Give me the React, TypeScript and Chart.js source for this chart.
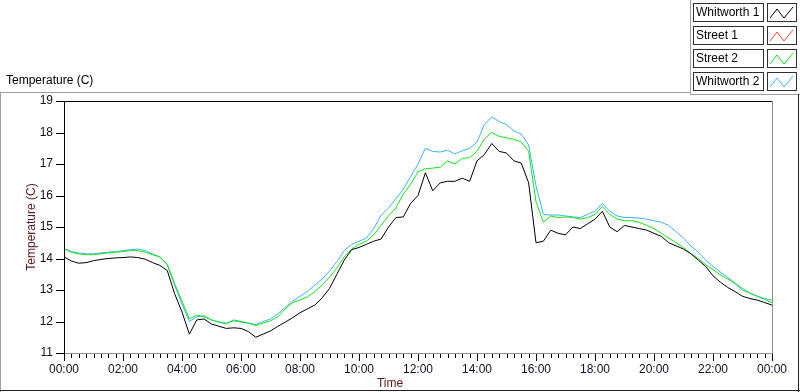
import React, { useEffect, useRef } from "react";
import { Chart, registerables } from "chart.js";

Chart.register(...registerables);

// ---- data ----
const STEP_H = 0.25; // sample spacing (hours)
const TIME_H: number[] = Array.from({ length: 97 }, (_, i) => i * STEP_H);

const SERIES_NAMES = ["Whitworth 1", "Street 1", "Street 2", "Whitworth 2"];
const SERIES_COLORS = ["#000000", "#ff4040", "#14e614", "#3cb4f5"];

const WHITWORTH_1 = [
  14.05, 13.92, 13.85, 13.87, 13.93, 13.97, 14.0, 14.02, 14.03, 14.05, 14.03, 13.98,
  13.87, 13.78, 13.62, 12.88, 12.3, 11.6, 12.05, 12.08, 11.92, 11.85, 11.78, 11.8,
  11.78, 11.68, 11.5, 11.6, 11.7, 11.85, 11.98, 12.12, 12.28, 12.4, 12.52, 12.75,
  13.05, 13.5, 13.95, 14.28, 14.35, 14.45, 14.55, 14.62, 15.0, 15.3, 15.32, 15.75,
  16.0, 16.72, 16.15, 16.4, 16.45, 16.45, 16.55, 16.45, 17.1, 17.3, 17.65, 17.4,
  17.35, 17.1, 17.03, 16.4, 14.5, 14.55, 14.9, 14.8, 14.75, 15.0, 14.95, 15.1,
  15.25, 15.5, 15.0, 14.85, 15.05, 15.0, 14.95, 14.9, 14.8, 14.7, 14.5, 14.4,
  14.3, 14.15, 13.95, 13.75, 13.45, 13.25, 13.08, 12.95, 12.8, 12.73, 12.68, 12.6,
  12.52,
];
const STREET_1: number[] = [];
const STREET_2 = [
  14.3, 14.2, 14.15, 14.12, 14.12, 14.15, 14.18, 14.2, 14.22, 14.25, 14.25, 14.2,
  14.12, 14.05, 13.82, 13.2, 12.65, 12.08, 12.2, 12.15, 12.05, 11.98, 11.93, 12.05,
  12.0, 11.95, 11.87, 11.95, 12.02, 12.15, 12.4, 12.6, 12.68, 12.78, 12.95, 13.15,
  13.4, 13.7, 14.05, 14.3, 14.45, 14.55, 14.75, 15.06, 15.35, 15.6, 16.05, 16.35,
  16.75, 16.85, 16.87, 16.9, 17.1, 17.0, 17.18, 17.2, 17.4, 17.8, 18.0, 17.88,
  17.83, 17.78, 17.7, 17.4, 15.8, 15.15, 15.35, 15.3, 15.32, 15.3, 15.25, 15.3,
  15.4, 15.65, 15.4, 15.25, 15.2, 15.2, 15.15, 15.05, 14.95, 14.8, 14.65, 14.5,
  14.35, 14.15, 14.0, 13.8, 13.65, 13.48, 13.35, 13.2, 13.0, 12.9, 12.8, 12.7,
  12.6,
];
const WHITWORTH_2 = [
  14.32, 14.22, 14.17, 14.15, 14.15, 14.18, 14.2, 14.22, 14.25, 14.28, 14.3, 14.25,
  14.15, 14.05, 13.8, 13.15, 12.55, 12.0, 12.15, 12.18, 12.05, 11.98, 11.95, 12.02,
  11.98, 11.95, 11.9, 12.0, 12.08, 12.25, 12.45, 12.65, 12.8, 12.95, 13.15, 13.35,
  13.6, 13.9, 14.25, 14.45, 14.55, 14.65, 14.95, 15.38, 15.6, 15.9, 16.2, 16.6,
  17.0, 17.5, 17.4, 17.38, 17.44, 17.32, 17.42, 17.5, 17.7, 18.25, 18.5, 18.35,
  18.25, 18.05, 17.95, 17.6, 16.3, 15.4, 15.38, 15.38, 15.35, 15.32, 15.3, 15.4,
  15.5, 15.75, 15.5, 15.35, 15.3, 15.3, 15.28, 15.25, 15.2, 15.15, 15.05, 14.85,
  14.65, 14.4, 14.2, 13.95, 13.75, 13.57, 13.4, 13.22, 13.05, 12.9, 12.8, 12.73,
  12.68,
];
const SERIES_VALUES = [WHITWORTH_1, STREET_1, STREET_2, WHITWORTH_2];

const X_MIN = 0;
const X_MAX = 24;
const X_MAJOR = 2;
const X_MINOR = 0.25;
const Y_MIN = 11;
const Y_MAX = 19;

const FONT = "'Liberation Sans', Arial, sans-serif";

function fmtTime(h: number) {
  const hh = Math.round(h) % 24;
  return (hh < 10 ? "0" : "") + hh + ":00";
}

const decorPlugin = {
  id: "decor",
  beforeDraw(chart: any) {
    const ctx = chart.ctx;
    ctx.save();
    ctx.fillStyle = "#ffffff";
    ctx.fillRect(0, 0, chart.width, chart.height);
    ctx.restore();
  },
  afterDraw(chart: any) {
    const ctx: CanvasRenderingContext2D = chart.ctx;
    const { left, right, top, bottom } = chart.chartArea;
    const line = (x1: number, y1: number, x2: number, y2: number, c: string) => {
      ctx.strokeStyle = c;
      ctx.beginPath();
      ctx.moveTo(x1, y1);
      ctx.lineTo(x2, y2);
      ctx.stroke();
    };
    ctx.save();
    ctx.lineWidth = 1;
    // outer frame
    line(0, 92.5, 690, 92.5, "#a0a0a0");
    line(0.5, 92, 0.5, 392, "#a0a0a0");
    line(690.5, 0, 690.5, 94, "#a0a0a0");
    line(690, 94.5, 800, 94.5, "#a0a0a0");
    line(798.5, 94, 798.5, 392, "#202020");
    line(0, 390.5, 800, 390.5, "#202020");
    // plot border
    line(left, top + 0.5, right, top + 0.5, "#000000");
    line(left + 0.5, top, left + 0.5, bottom + 1, "#000000");
    line(right + 0.5, top, right + 0.5, bottom + 1, "#909090");
    line(left + 1, bottom + 0.5, right, bottom + 0.5, "#909090");
    // x ticks
    const xs = chart.scales.x;
    const nMinor = Math.round((X_MAX - X_MIN) / X_MINOR);
    const perMajor = Math.round(X_MAJOR / X_MINOR);
    for (let q = 0; q <= nMinor; q++) {
      const px = Math.round(xs.getPixelForValue(X_MIN + q * X_MINOR)) + 0.5;
      const len = q % perMajor === 0 ? 7 : 4;
      line(px, bottom + 1, px, bottom + 1 + len, "#000000");
    }
    // y ticks
    const ys = chart.scales.y;
    for (let v = Y_MIN; v <= Y_MAX; v++) {
      const py = Math.round(ys.getPixelForValue(v)) + 0.5;
      line(left - 8, py, left, py, "#000000");
    }
    // titles
    ctx.fillStyle = "#000000";
    ctx.font = "12px " + FONT;
    ctx.textBaseline = "middle";
    ctx.textAlign = "left";
    ctx.fillText("Temperature (C)", 6, 81);
    ctx.fillStyle = "#5a1818";
    ctx.textAlign = "center";
    ctx.fillText("Time", 390, 384);
    // legend
    const rowTop = [3, 26, 49, 72];
    chart.data.datasets.forEach((ds: any, i: number) => {
      const by = rowTop[i];
      ctx.strokeStyle = "#303030";
      ctx.strokeRect(693.5, by + 0.5, 70, 18);
      ctx.strokeRect(767.5, by + 0.5, 29, 18);
      ctx.fillStyle = "#000000";
      ctx.textAlign = "left";
      ctx.font = "12px " + FONT;
      ctx.fillText(ds.label, 696, by + 10);
      ctx.strokeStyle = ds.borderColor;
      ctx.beginPath();
      ctx.moveTo(770, by + 15);
      ctx.lineTo(777, by + 6);
      ctx.lineTo(784, by + 15);
      ctx.lineTo(793, by + 4);
      ctx.stroke();
    });
    ctx.restore();
  },
};

export default function App() {
  const ref = useRef<HTMLCanvasElement>(null);
  useEffect(() => {
    document.body.style.margin = "0";
    const canvas = ref.current!;
    const chart = new Chart(canvas, {
      type: "line",
      data: {
        datasets: SERIES_NAMES.map((name, i) => ({
          label: name,
          data: SERIES_VALUES[i].map((v, k) => ({ x: TIME_H[k], y: v })),
          borderColor: SERIES_COLORS[i],
          backgroundColor: SERIES_COLORS[i],
          borderWidth: 1,
          pointRadius: 0,
          tension: 0,
          fill: false,
        })),
      },
      options: {
        animation: false,
        responsive: false,
        maintainAspectRatio: false,
        layout: { padding: { top: 101, right: 28, left: 0, bottom: 0 } },
        plugins: { legend: { display: false }, tooltip: { enabled: false } },
        scales: {
          x: {
            type: "linear",
            min: X_MIN,
            max: X_MAX,
            grid: { display: false, drawTicks: true, tickLength: 7 },
            border: { display: false },
            ticks: {
              stepSize: X_MAJOR,
              autoSkip: false,
              maxRotation: 0,
              padding: 2,
              color: "#101020",
              font: { family: FONT, size: 12 },
              callback: (v: any) => fmtTime(Number(v)),
            },
            afterFit: (s: any) => {
              s.height = 39;
            },
          },
          y: {
            min: Y_MIN,
            max: Y_MAX,
            grid: { display: false, drawTicks: true, tickLength: 8 },
            border: { display: false },
            ticks: {
              stepSize: 1,
              padding: 3,
              color: "#101010",
              font: { family: FONT, size: 12 },
            },
            title: {
              display: true,
              text: "Temperature (C)",
              color: "#5a1818",
              font: { family: FONT, size: 12 },
              padding: { top: 24, bottom: 0 },
            },
            afterFit: (s: any) => {
              s.width = 64;
            },
          },
        },
      },
      plugins: [decorPlugin],
    });
    return () => chart.destroy();
  }, []);
  return <canvas ref={ref} width={800} height={392} style={{ display: "block" }} />;
}
